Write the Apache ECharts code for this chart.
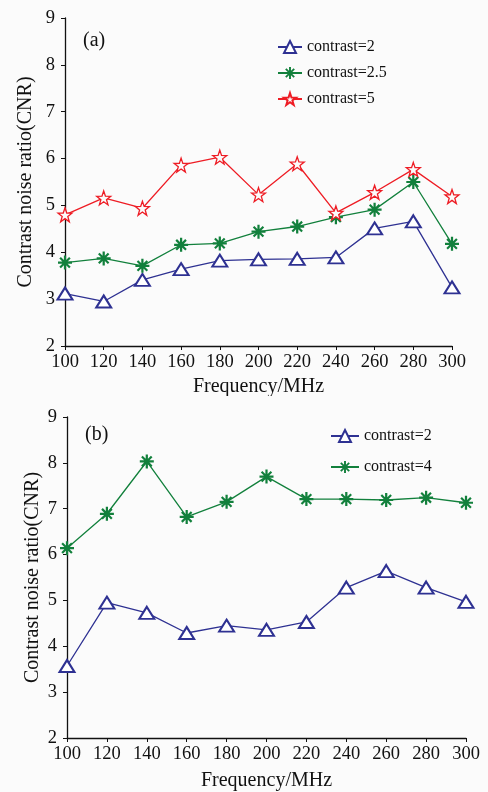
<!DOCTYPE html>
<html><head><meta charset="utf-8">
<script src="https://cdn.jsdelivr.net/npm/echarts@6/dist/echarts.min.js"></script>
<style>
html,body{margin:0;padding:0;background:#fbfbfb;}
#a{position:absolute;left:0;top:0;width:488px;height:396px;}
#b{position:absolute;left:0;top:396px;width:488px;height:396px;}
</style></head>
<body>
<div id="a"></div><div id="b"></div>
<script>
// ---- data ----
const frequencies = [100,120,140,160,180,200,220,240,260,280,300];
const yTicks = [2,3,4,5,6,7,8,9];
// panel (a)
const a_c2   = [3.12,2.95,3.41,3.64,3.82,3.85,3.86,3.89,4.51,4.66,3.25];
const a_c2_5 = [3.78,3.87,3.71,4.16,4.19,4.44,4.55,4.75,4.91,5.50,4.18];
const a_c5   = [4.80,5.16,4.94,5.86,6.03,5.23,5.89,4.84,5.28,5.77,5.19];
// panel (b)
const b_c2   = [3.57,4.95,4.73,4.29,4.45,4.36,4.53,5.28,5.64,5.28,4.97];
const b_c4   = [6.14,6.89,8.03,6.82,7.15,7.70,7.21,7.21,7.19,7.24,7.13];

const FONT = '"Liberation Serif","Times New Roman",serif';
const BLUE = '#2e3192', GREEN = '#12803c', RED = '#ee1c24';
const STAR = 'path://M0,-10 L2.35,-3.24 L9.51,-3.09 L3.8,1.24 L5.88,8.09 L0,4 L-5.88,8.09 L-3.8,1.24 L-9.51,-3.09 L-2.35,-3.24 Z';
const ASTER = 'path://M-10,-1.6 L10,-1.6 L10,1.6 L-10,1.6 Z M-1.6,-10 L1.6,-10 L1.6,10 L-1.6,10 Z M-5.9,-8.1 L8.1,5.9 L5.9,8.1 L-8.1,-5.9 Z M-8.1,5.9 L5.9,-8.1 L8.1,-5.9 L-5.9,8.1 Z';

function pairs(vals){ return frequencies.map((f,i)=>[f, vals[i]]); }

function seriesTri(name, vals){
  return {name, type:'line', data:pairs(vals), symbol:'emptyTriangle', symbolSize:[15,12],
    lineStyle:{color:BLUE,width:1.3}, itemStyle:{color:BLUE,borderColor:BLUE,borderWidth:1.3}, z:2};
}
function seriesAst(name, vals){
  return {name, type:'line', data:pairs(vals), symbol:ASTER, symbolSize:14,
    lineStyle:{color:GREEN,width:1.3}, itemStyle:{color:GREEN,borderWidth:0}, z:3};
}
function seriesStar(name, vals){
  return {name, type:'line', data:pairs(vals), symbol:STAR, symbolSize:14,
    lineStyle:{color:RED,width:1.3}, itemStyle:{color:'#fbfbfb',borderColor:RED,borderWidth:1.3}, z:4};
}

function axes(yNameGap, xNameGap){
  return {
    xAxis:{type:'value', min:frequencies[0], max:frequencies[frequencies.length-1], interval:20,
      name:'Frequency/MHz', nameLocation:'middle', nameGap:xNameGap, nameMoveOverlap:false,
      nameTextStyle:{fontFamily:FONT,fontSize:20,color:'#111'},
      axisLine:{lineStyle:{color:'#111',width:1.3}}, axisTick:{length:4,lineStyle:{color:'#111'}},
      axisLabel:{fontFamily:FONT,fontSize:18.5,color:'#111',margin:7}, splitLine:{show:false}},
    yAxis:{type:'value', min:yTicks[0], max:yTicks[yTicks.length-1], interval:1,
      name:'Contrast noise ratio(CNR)', nameLocation:'middle', nameGap:yNameGap, nameMoveOverlap:false,
      nameTextStyle:{fontFamily:FONT,fontSize:20,color:'#111'},
      axisLine:{show:true,lineStyle:{color:'#111',width:1.3}}, axisTick:{show:true,length:4,lineStyle:{color:'#111'}},
      axisLabel:{fontFamily:FONT,fontSize:18.5,color:'#111',margin:10}, splitLine:{show:false}}
  };
}

const ca = echarts.init(document.getElementById('a'), null, {renderer:'canvas'});
ca.setOption(Object.assign({
  backgroundColor:'#fbfbfb', animation:false,
  grid:{left:65, right:36, top:18, height:328, outerBoundsMode:'none', containLabel:false},
  title:{text:'(a)', left:78, top:26, textStyle:{fontFamily:FONT,fontSize:20,fontWeight:'normal',color:'#111'}},
  legend:{orient:'vertical', left:272, top:34, itemWidth:24, itemHeight:15, itemGap:10,
    textStyle:{fontFamily:FONT,fontSize:16,color:'#111',lineHeight:16},
    data:['contrast=2','contrast=2.5','contrast=5']},
  series:[seriesTri('contrast=2',a_c2), seriesAst('contrast=2.5',a_c2_5), seriesStar('contrast=5',a_c5)]
}, axes(29, 31)));

const cb = echarts.init(document.getElementById('b'), null, {renderer:'canvas'});
cb.setOption(Object.assign({
  backgroundColor:'#fbfbfb', animation:false,
  grid:{left:67, right:22, top:21, height:321, outerBoundsMode:'none', containLabel:false},
  title:{text:'(b)', left:80, top:24, textStyle:{fontFamily:FONT,fontSize:20,fontWeight:'normal',color:'#111'}},
  legend:{orient:'vertical', left:325, top:27, itemWidth:28, itemHeight:15, itemGap:15,
    textStyle:{fontFamily:FONT,fontSize:16,color:'#111',lineHeight:16},
    data:['contrast=2','contrast=4']},
  series:[seriesTri('contrast=2',b_c2), seriesAst('contrast=4',b_c4)]
}, axes(24, 33)));
</script>
</body></html>
